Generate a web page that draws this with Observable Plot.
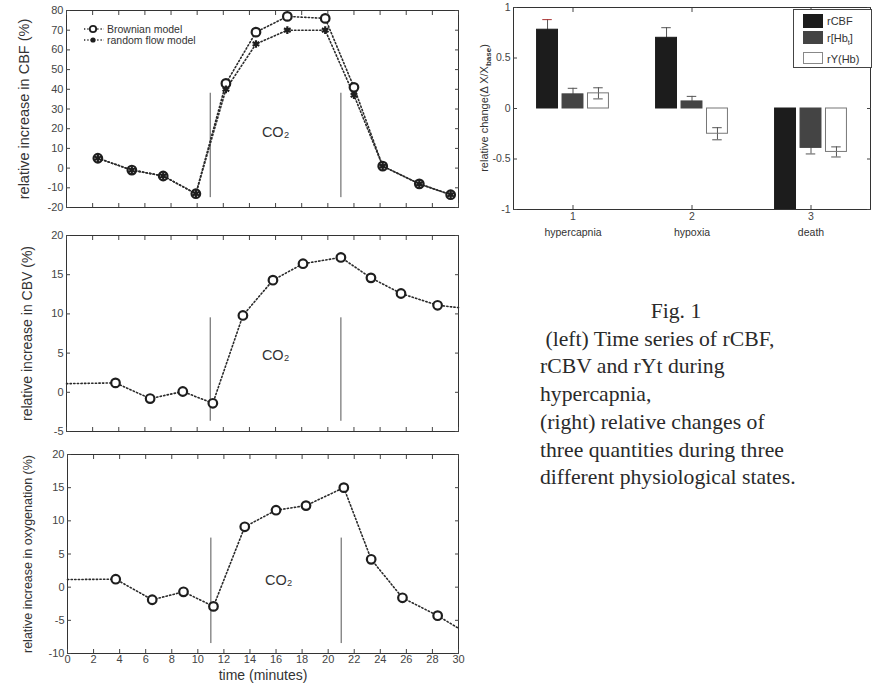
<!DOCTYPE html>
<html>
<head>
<meta charset="utf-8">
<script src="https://cdn.jsdelivr.net/npm/d3@7"></script>
<script src="https://cdn.jsdelivr.net/npm/@observablehq/plot@0.6"></script>
<style>
  body { margin: 0; background: #fff; }
  #fig { position: relative; width: 872px; height: 685px; overflow: hidden; background: #fff;
         font-family: "Liberation Sans", Arial, sans-serif; color: #333; }
  .panel { position: absolute; }
  .lg { position: absolute; font-size: 10.5px; color: #333; white-space: nowrap; line-height: 10px; }
  .lg svg { position: absolute; left: 0; top: 0; }
  #barLegend { position: absolute; left: 793px; top: 9px; width: 77px; height: 57px;
               border: 1px solid #444; background: #fff; font-size: 11px; color: #333; }
  #barLegend .sw { position: absolute; left: 9px; width: 20px; }
  #barLegend .tx { position: absolute; left: 33px; line-height: 12px; }
  #caption { position: absolute; left: 540px; top: 298px; width: 320px;
             font-family: "Liberation Serif", "Times New Roman", serif; font-size: 21.7px;
             line-height: 27.7px; color: #2a2a2a; white-space: nowrap; }
</style>
</head>
<body>
<div id="fig"></div>
<script>
// ---------------- data ----------------
// top-left: relative increase in CBF (%)
const cbfTime = [2.4, 5.0, 7.4, 9.9, 12.2, 14.5, 16.9, 19.8, 22.0, 24.2, 27.0, 29.4];
const cbfBrownian = [5, -1, -4, -13, 43, 69, 77, 76, 41, 1, -8, -13.5];
const cbfRandomFlow = [5, -1, -4, -13, 40, 63, 70, 70, 37, 1, -8, -13.5];
// middle-left: relative increase in CBV (%)
const cbvTime = [0, 3.75, 6.4, 8.9, 11.2, 13.5, 15.8, 18.1, 21.0, 23.3, 25.6, 28.4, 30];
const cbv = [1.1, 1.2, -0.8, 0.1, -1.4, 9.8, 14.3, 16.4, 17.2, 14.6, 12.6, 11.1, 10.8];
// bottom-left: relative increase in oxygenation (%)
const oxyTime = [0, 3.7, 6.5, 8.9, 11.2, 13.6, 16.0, 18.3, 21.2, 23.3, 25.7, 28.4, 30];
const oxy = [1.15, 1.2, -1.9, -0.7, -2.9, 9.1, 11.6, 12.3, 15.0, 4.2, -1.6, -4.3, -6.2];
// CO2 window (minutes) and extents of its marker lines per panel
const co2Window = [11, 21];
const co2SpanCBF = [-15, 38];
const co2SpanCBV = [-3.7, 9.5];
const co2SpanOxy = [-8.5, 7.4];
// tick values
const timeTicks = [0, 2, 4, 6, 8, 10, 12, 14, 16, 18, 20, 22, 24, 26, 28, 30];
const cbfTicks = [-20, -10, 0, 10, 20, 30, 40, 50, 60, 70, 80];
const cbvTicks = [-5, 0, 5, 10, 15, 20];
const oxyTicks = [-10, -5, 0, 5, 10, 15, 20];

// top-right: relative change during physiological states
const states = ["hypercapnia", "hypoxia", "death"];
const stateTicks = ["1", "2", "3"];
const quantities = ["rCBF", "r[Hbt]", "rY(Hb)"];
const rCBF = [0.78, 0.70, -1.0];
const rCBFErr = [0.10, 0.10, 0];
const rHbt = [0.14, 0.07, -0.39];
const rHbtErr = [0.06, 0.05, 0.06];
const rYHb = [0.15, -0.25, -0.43];
const rYHbErr = [0.055, 0.06, 0.05];
const barTicks = [-1, -0.5, 0, 0.5, 1];

// ---------------- layout ----------------
const fig = document.getElementById("fig");
const plotStyle = { fontFamily: "Liberation Sans, Arial, sans-serif", fontSize: "10px",
                    color: "#333", background: "transparent", overflow: "visible" };
const ink = "#2a2a2a";
const dotted = { stroke: ink, strokeWidth: 1.6, strokeDasharray: "1.3,2.3" };
const openCircle = { r: 4.3, stroke: "#1e1e1e", strokeWidth: 2.2, fill: "#fff" };

function place(el, left, top) {
  const d = document.createElement("div");
  d.className = "panel";
  d.style.left = left + "px"; d.style.top = top + "px";
  d.appendChild(el); fig.appendChild(d);
  return d;
}

function timePanel(o) {
  return Plot.plot({
    width: o.width, height: o.height,
    marginLeft: o.ml, marginRight: o.mr, marginTop: o.mt, marginBottom: o.mb,
    style: plotStyle,
    x: { domain: [0, 30] },
    y: { domain: o.yDomain },
    marks: [
      Plot.ruleX(co2Window, { y1: o.co2Span[0], y2: o.co2Span[1], stroke: "#555", strokeWidth: 1 }),
      Plot.text(["CO₂"], { x: o.co2At[0], y: o.co2At[1], fontSize: 14.5, fill: "#333" }),
      ...o.series,
      Plot.frame({ stroke: "#333" }),
      Plot.axisY({ ticks: o.yTicks, anchor: "left", tickSize: -4, tickPadding: 7, label: null,
                   fontSize: 11, color: "#444", tickFormat: d => String(d) }),
      Plot.axisY({ ticks: o.yTicks, anchor: "right", tickSize: -4, label: null, color: "#444",
                   tickFormat: () => "" }),
      Plot.axisX({ ticks: timeTicks, anchor: "bottom", tickSize: -4, tickPadding: 6, label: null,
                   fontSize: 11, color: "#444", tickFormat: o.showX ? (d => String(d)) : () => "" }),
      Plot.axisX({ ticks: timeTicks, anchor: "top", tickSize: -4, label: null, color: "#444",
                   tickFormat: () => "" }),
      Plot.text([o.yLabel], { frameAnchor: "left", rotate: -90, dx: o.labelDx, textAnchor: "middle",
                              lineAnchor: "middle", fontSize: o.labelSize, fill: "#333" }),
      ...(o.xLabel ? [Plot.text([o.xLabel], { frameAnchor: "bottom", dy: 22, lineAnchor: "middle",
                                              textAnchor: "middle", fontSize: 14, fill: "#333" })] : [])
    ]
  });
}

// top-left CBF
place(timePanel({
  width: 465, height: 215, ml: 66, mr: 7, mt: 10, mb: 8,
  yDomain: [-20, 80], yTicks: cbfTicks, co2Span: co2SpanCBF, co2At: [16, 18],
  yLabel: "relative increase in CBF (%)", labelDx: -42, labelSize: 14.5,
  series: [
    Plot.line(cbfRandomFlow, { x: cbfTime, y: cbfRandomFlow, ...dotted }),
    Plot.line(cbfBrownian, { x: cbfTime, y: cbfBrownian, ...dotted }),
    Plot.dot(cbfBrownian, { x: cbfTime, y: cbfBrownian, ...openCircle }),
    Plot.dot(cbfRandomFlow, { x: cbfTime, y: cbfRandomFlow, symbol: "asterisk", r: 3.6,
                              stroke: "#1e1e1e", strokeWidth: 2.2 })
  ]
}), 0, 0);

// middle-left CBV
place(timePanel({
  width: 465, height: 215, ml: 66, mr: 7, mt: 10, mb: 9,
  yDomain: [-5, 20], yTicks: cbvTicks, co2Span: co2SpanCBV, co2At: [16, 4.7],
  yLabel: "relative increase in CBV (%)", labelDx: -39, labelSize: 14,
  series: [
    Plot.line(cbv, { x: cbvTime, y: cbv, ...dotted }),
    Plot.dot(cbv, { x: cbvTime, y: cbv, filter: (d, i) => i > 0 && i < cbv.length - 1, ...openCircle })
  ]
}), 0, 225);

// bottom-left oxygenation
place(timePanel({
  width: 465, height: 241, ml: 67, mr: 7, mt: 10, mb: 32,
  yDomain: [-10, 20], yTicks: oxyTicks, co2Span: co2SpanOxy, co2At: [16.2, 1],
  yLabel: "relative increase in oxygenation (%)", labelDx: -40, labelSize: 12.5,
  showX: true, xLabel: "time (minutes)",
  series: [
    Plot.line(oxy, { x: oxyTime, y: oxy, ...dotted }),
    Plot.dot(oxy, { x: oxyTime, y: oxy, filter: (d, i) => i > 0 && i < oxy.length - 1, ...openCircle })
  ]
}), 0, 444);

// legend of the CBF panel
(function () {
  const items = [
    { label: "Brownian model", top: 24, sym: "circle" },
    { label: "random flow model", top: 35, sym: "star" }
  ];
  for (const it of items) {
    const d = document.createElement("div");
    d.className = "lg";
    d.style.left = "84px"; d.style.top = it.top + "px"; d.style.width = "140px"; d.style.height = "10px";
    const mark = it.sym === "circle"
      ? '<circle cx="9" cy="5" r="3.2" fill="#fff" stroke="#1e1e1e" stroke-width="1.8"/>'
      : '<circle cx="9" cy="5" r="2.6" fill="#1e1e1e"/>';
    d.innerHTML = '<svg width="22" height="10"><line x1="0" y1="5" x2="20" y2="5" stroke="#2a2a2a" stroke-width="1.4" stroke-dasharray="1.3,2"/>' +
      mark + '</svg><span style="position:absolute;left:23px;top:0">' + it.label + '</span>';
    fig.appendChild(d);
  }
})();

// ---------------- bar chart ----------------
const barValues = [rCBF, rHbt, rYHb];
const barErrors = [rCBFErr, rHbtErr, rYHbErr];
const barRows = quantities.flatMap((q, j) => states.map((s, i) => ({
  state: s, pos: i + 1, q, j, value: barValues[j][i], err: barErrors[j][i]
})));
const barW = 0.176, barStep = 0.214, capW = 0.04;
const ctr = d => d.pos + (d.j - 1) * barStep;
const barFill = ["#1c1c1c", "#444", "none"];
const barStroke = ["#1c1c1c", "#444", "#777"];
const errRows = barRows.filter(d => d.err > 0);

const barPlot = Plot.plot({
  width: 412, height: 245, marginLeft: 53, marginRight: 2, marginTop: 7, marginBottom: 36,
  style: plotStyle,
  x: { domain: [0.5, 3.5] },
  y: { domain: [-1, 1] },
  marks: [
    Plot.ruleX(errRows, { x: ctr, y1: d => d.value - d.err, y2: d => d.value + d.err, stroke: "#555" }),
    Plot.ruleY(errRows, { y: d => d.value + d.err, x1: d => ctr(d) - capW, x2: d => ctr(d) + capW,
                          stroke: d => (d.j === 0 && d.pos === 1 ? "#a33" : "#555") }),
    Plot.ruleY(errRows, { y: d => d.value - d.err, x1: d => ctr(d) - capW, x2: d => ctr(d) + capW, stroke: "#555" }),
    ...quantities.map((q, j) => Plot.rect(barRows.filter(d => d.j === j), {
      x1: d => ctr(d) - barW / 2, x2: d => ctr(d) + barW / 2, y1: 0, y2: "value",
      fill: barFill[j], stroke: barStroke[j], strokeWidth: 1
    })),
    Plot.frame({ stroke: "#333" }),
    Plot.axisY({ ticks: barTicks, anchor: "left", tickSize: -4, tickPadding: 7, label: null,
                 fontSize: 10.5, color: "#444", tickFormat: d => String(d) }),
    Plot.axisY({ ticks: barTicks, anchor: "right", tickSize: -4, label: null, color: "#444", tickFormat: () => "" }),
    Plot.axisX({ ticks: [1, 2, 3], anchor: "bottom", tickSize: -4, tickPadding: 7, label: null,
                 fontSize: 10.5, color: "#444", tickFormat: d => stateTicks[d - 1] }),
    Plot.axisX({ ticks: [1, 2, 3], anchor: "top", tickSize: -4, label: null, color: "#444", tickFormat: () => "" }),
    Plot.text(states, { x: (d, i) => i + 1, frameAnchor: "bottom", dy: 23, lineAnchor: "middle",
                        fontSize: 10.5, fill: "#333" })
  ]
});
place(barPlot, 460, 0);
// y label with subscript
(function () {
  const t = d3.select(barPlot).append("text")
    .attr("transform", "translate(28,108) rotate(-90)")
    .attr("text-anchor", "middle").attr("font-size", 11).attr("fill", "#333");
  t.append("tspan").text("relative change(Δ X/X");
  t.append("tspan").attr("font-size", 8).attr("font-weight", "bold").attr("dy", 3).text("base");
  t.append("tspan").attr("dy", -3).text(")");
})();

// legend of the bar chart
(function () {
  const lg = document.createElement("div");
  lg.id = "barLegend";
  const rows = [
    { html: "rCBF", sw: [4, 14], fill: "#1c1c1c", tx: 5 },
    { html: "r[Hb<sub style='font-size:7px'>t</sub>]", sw: [21, 13], fill: "#444", tx: 22 },
    { html: "rY(Hb)", sw: [42, 12], fill: "#fff", tx: 43 }
  ];
  lg.innerHTML = rows.map((r, j) =>
    `<div class="sw" style="top:${r.sw[0]}px;height:${r.sw[1]}px;background:${r.fill};${j === 2 ? "border:1px solid #888;box-sizing:border-box;" : ""}"></div>` +
    `<div class="tx" style="top:${r.tx}px">${r.html}</div>`).join("");
  fig.appendChild(lg);
})();

// ---------------- caption ----------------
const captionTitle = "Fig. 1";
const captionLines = [
  "\u00a0(left) Time series of rCBF,",
  "rCBV and rYt during",
  "hypercapnia,",
  "(right) relative changes of",
  "three quantities during three",
  "different physiological states."
];
const cap = document.createElement("div");
cap.id = "caption";
cap.innerHTML = `<div style="width:272px;text-align:center">${captionTitle}</div>` +
  captionLines.map(l => `<div>${l}</div>`).join("");
fig.appendChild(cap);
</script>
</body>
</html>
